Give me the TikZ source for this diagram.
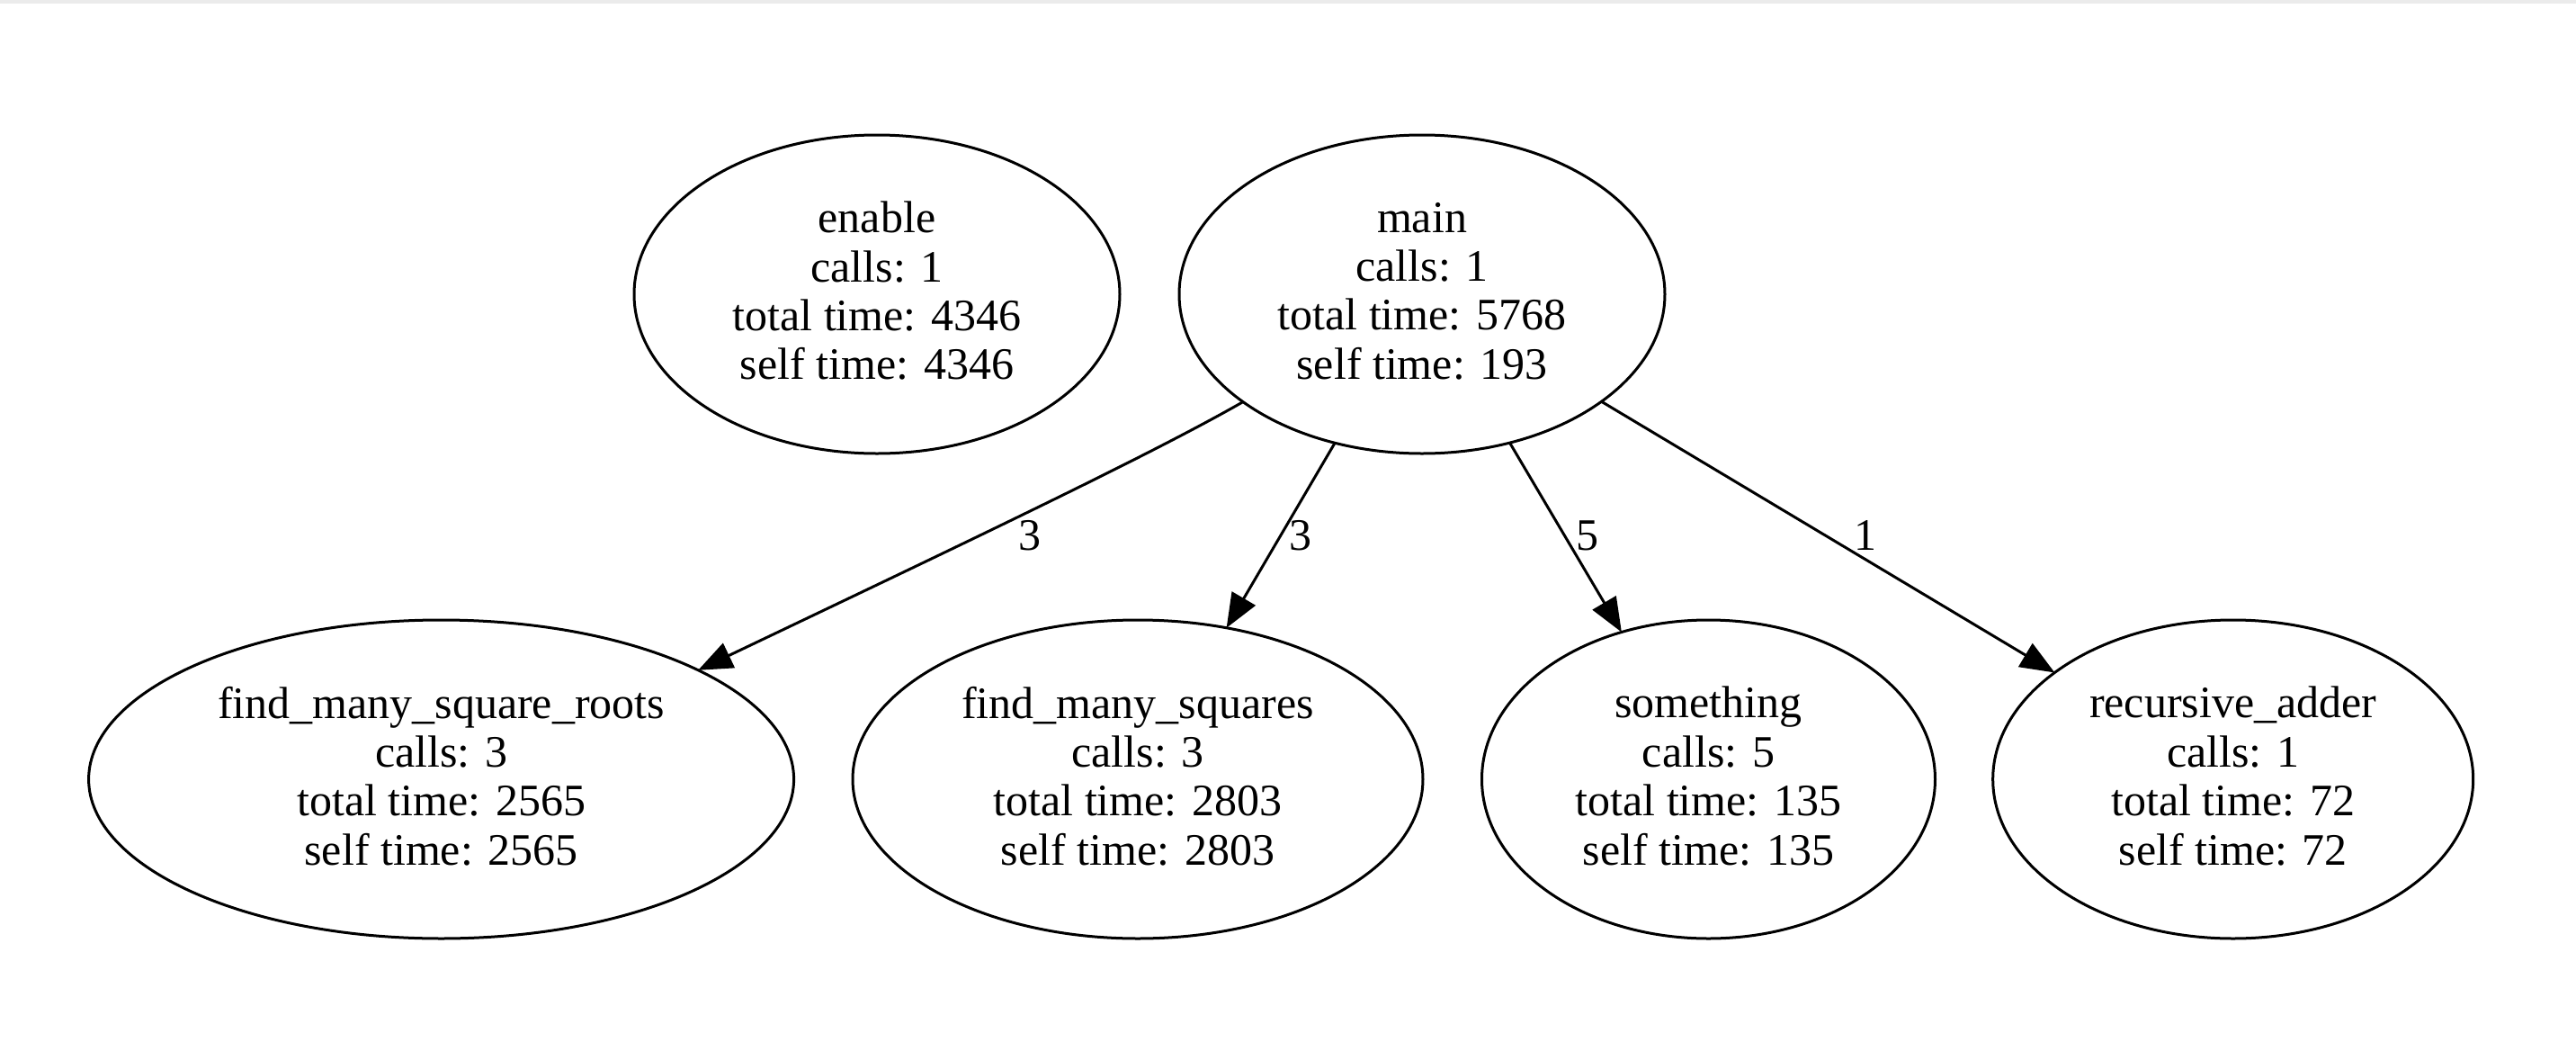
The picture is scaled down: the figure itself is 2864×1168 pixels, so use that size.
\documentclass[tikz,border=0pt]{standalone}
\usepackage{fontspec}
\setmainfont{Liberation Serif}
\usetikzlibrary{shapes.geometric,arrows.meta}
\begin{document}
\begin{tikzpicture}[x=0.25pt,y=-0.25pt,
  fn/.style={draw,ellipse,line width=0.75pt,inner sep=0pt,outer sep=0pt,
    minimum height=88.5pt},
  txt/.style={inner sep=0pt,align=center,yshift=0.9pt,font=\fontsize{12.5}{13.6}\selectfont},
  call/.style={-{Triangle[length=9.5pt,width=7.5pt]},line width=0.75pt},
  lbl/.style={inner sep=0pt,font=\fontsize{12.5}{13.6}\selectfont}]
\useasboundingbox (0,0) rectangle (2864,1168);
\fill[black!8] (0,0) rectangle (2864,4);
\node[fn,minimum width=135pt,label={[txt]center:{enable\\calls: 1\\total time: 4346\\self time: 4346}}] (enable) at (975,327) {};
\node[fn,minimum width=135pt,label={[txt]center:{main\\calls: 1\\total time: 5768\\self time: 193}}] (main) at (1581,327) {};
\node[fn,minimum width=196pt,label={[txt]center:{find\_many\_square\_roots\\calls: 3\\total time: 2565\\self time: 2565}}] (fmsr) at (490.6,866) {};
\node[fn,minimum width=158.5pt,label={[txt]center:{find\_many\_squares\\calls: 3\\total time: 2803\\self time: 2803}}] (fms) at (1265,866) {};
\node[fn,minimum width=126pt,label={[txt]center:{something\\calls: 5\\total time: 135\\self time: 135}}] (something) at (1899.5,866) {};
\node[fn,minimum width=133.5pt,label={[txt]center:{recursive\_adder\\calls: 1\\total time: 72\\self time: 72}}] (radder) at (2482.7,866) {};
\draw[call] (main.211.7) .. controls (1280,505) and (1080,600) .. (fmsr.23.8);
\draw[call] (main) -- (fms);
\draw[call] (main) -- (something);
\draw[call] (main) -- (radder);
\node[lbl] (l1) at (1145,595) {3};
\node[lbl] (l2) at (1446,595) {3};
\node[lbl] (l3) at (1765,595) {5};
\node[lbl] (l4) at (2074,595) {1};
\end{tikzpicture}
\end{document}
